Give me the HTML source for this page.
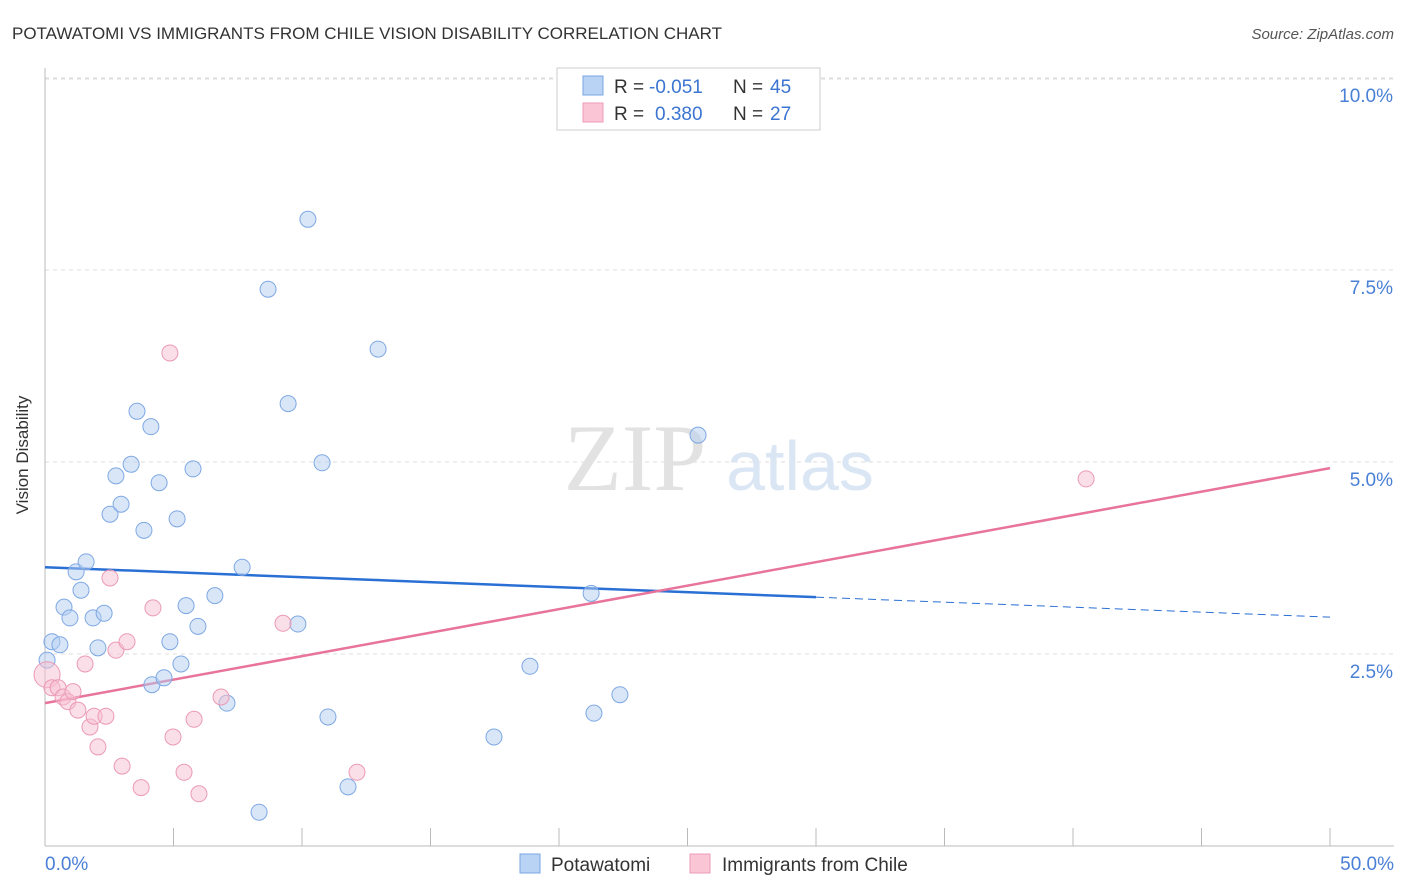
<!DOCTYPE html>
<html><head><meta charset="utf-8"><style>
body{margin:0;background:#fff;font-family:"Liberation Sans",sans-serif;}
svg{display:block}
</style></head><body>
<svg width="1406" height="892" viewBox="0 0 1406 892" xmlns="http://www.w3.org/2000/svg">
<text x="12" y="39" font-size="17" fill="#333">POTAWATOMI VS IMMIGRANTS FROM CHILE VISION DISABILITY CORRELATION CHART</text>
<text x="1394" y="39" font-size="15" fill="#555" font-style="italic" text-anchor="end">Source: ZipAtlas.com</text>
<g id="grid"></g>
<g>
<text x="635" y="490" font-size="95" fill="#e2e2e2" font-family="Liberation Serif,serif" text-anchor="middle">ZIP</text>
<text x="800" y="490" font-size="70" fill="#dbe6f5" text-anchor="middle">atlas</text></g>
<g id="axes"></g>
<g id="lines"></g>
<g id="pts"></g>
<text x="28" y="455" font-size="17" fill="#333" transform="rotate(-90 28 455)" text-anchor="middle">Vision Disability</text>
<g>
<rect x="557" y="68" width="263" height="62" fill="#fff" stroke="#ccc"/>
<rect x="583" y="76" width="20" height="19" fill="#b9d3f5" stroke="#7aa6e3"/>
<rect x="583" y="103" width="20" height="19" fill="#fac6d6" stroke="#ec9bb5"/>
<g font-size="19">
<text x="614" y="93" fill="#333">R =</text><text x="649" y="93" fill="#3b74d1">-0.051</text>
<text x="733" y="93" fill="#333">N =</text><text x="770" y="93" fill="#3b74d1">45</text>
<text x="614" y="120" fill="#333">R =</text><text x="655" y="120" fill="#3b74d1">0.380</text>
<text x="733" y="120" fill="#333">N =</text><text x="770" y="120" fill="#3b74d1">27</text>
</g>
</g>
<g>
<rect x="520" y="854" width="20" height="19" fill="#b9d3f5" stroke="#7aa6e3"/>
<text x="551" y="871" font-size="19" fill="#333">Potawatomi</text>
<rect x="690" y="854" width="20" height="19" fill="#fac6d6" stroke="#ec9bb5"/>
<text x="722" y="871" font-size="19" fill="#333">Immigrants from Chile</text>
</g>
</svg>
<script>
const blueX=[0.27,0.58,0.08,0.74,0.97,1.21,1.40,1.60,1.87,2.06,2.30,2.53,2.76,2.96,3.35,3.58,3.85,4.12,4.16,4.44,4.63,4.86,5.14,5.29,5.49,5.76,5.95,6.61,7.08,7.67,8.33,8.68,9.46,9.84,10.23,10.78,11.01,11.79,12.96,17.47,18.87,21.25,21.36,22.37,25.41];
const blueY=[2.66,2.62,2.42,3.11,2.97,3.57,3.33,3.70,2.97,2.58,3.03,4.32,4.82,4.45,4.97,5.66,4.11,5.46,2.10,4.73,2.19,2.66,4.26,2.37,3.13,4.91,2.86,3.26,1.86,3.63,0.44,7.25,5.76,2.89,8.16,4.99,1.68,0.77,6.47,1.42,2.34,3.29,1.73,1.97,5.35];
const pinkX=[0.08,0.27,0.51,0.70,0.89,1.09,1.28,1.56,1.75,1.91,2.06,2.37,2.53,2.76,3.00,3.19,3.74,4.20,4.86,4.98,5.41,5.80,5.99,6.85,9.26,12.14,40.51];
const pinkY=[2.23,2.06,2.06,1.94,1.88,2.01,1.77,2.37,1.55,1.69,1.29,1.69,3.49,2.55,1.04,2.66,0.76,3.10,6.42,1.42,0.96,1.65,0.68,1.94,2.90,0.96,4.78];
const blueTrend=[3.63,3.24,2.98];
const pinkTrend=[1.86,4.92];
const yTicks=[2.5,5.0,7.5,10.0];
const yTickLabels=["2.5%","5.0%","7.5%","10.0%"];
const NS="http://www.w3.org/2000/svg";
const X=v=>45+v*25.7, Y=v=>846-v*76.8;
function mk(t,a,p){const e=document.createElementNS(NS,t);for(const k in a)e.setAttribute(k,a[k]);document.getElementById(p).appendChild(e);return e;}
yTicks.forEach((t,i)=>{const g=mk('line',{x1:45,x2:1394,y1:Y(t),y2:Y(t),stroke:'#ddd','stroke-dasharray':'4,4'},'grid');


const l=mk('text',{x:1393,y:Y(t)+24,'font-size':19,fill:'#4a7fd6','text-anchor':'end'},'axes');l.textContent=yTickLabels[i];

});
mk('line',{x1:45,x2:1394,y1:79,y2:79,stroke:'#ddd','stroke-dasharray':'4,4'},'grid');
mk('line',{x1:45,x2:45,y1:68,y2:846,stroke:'#bbb'},'axes');
mk('line',{x1:45,x2:1394,y1:846,y2:846,stroke:'#bbb'},'axes');
for(let i=0;i<=10;i++){mk('line',{x1:X(i*5),x2:X(i*5),y1:828,y2:846,stroke:'#bbb'},'axes');}
let t=mk('text',{x:45,y:870,'font-size':19,fill:'#4a7fd6'},'axes');t.textContent='0.0%';


t=mk('text',{x:1394,y:870,'font-size':19,fill:'#4a7fd6','text-anchor':'end'},'axes');t.textContent='50.0%';


blueX.forEach((x,i)=>{const c=mk('circle',{cx:X(x),cy:Y(blueY[i]),r:8,fill:'rgba(180,205,242,0.5)',stroke:'#7ea8e3','stroke-width':1},'pts');

});
pinkX.forEach((x,i)=>{const c=mk('circle',{cx:X(x),cy:Y(pinkY[i]),r:i==0?13:8,fill:'rgba(248,192,210,0.5)',stroke:'#eb9ab4','stroke-width':1},'pts');

});
let ln=mk('line',{x1:X(0),y1:Y(blueTrend[0]),x2:X(30),y2:Y(blueTrend[1]),stroke:'#2a6fd4','stroke-width':2.5},'lines');


ln=mk('line',{x1:X(30),y1:Y(blueTrend[1]),x2:X(50),y2:Y(blueTrend[2]),stroke:'#2a6fd4','stroke-width':1,'stroke-dasharray':'8,5'},'lines');


ln=mk('line',{x1:X(0),y1:Y(pinkTrend[0]),x2:X(50),y2:Y(pinkTrend[1]),stroke:'#e8739b','stroke-width':2.5},'lines');


</script>
</body></html>
